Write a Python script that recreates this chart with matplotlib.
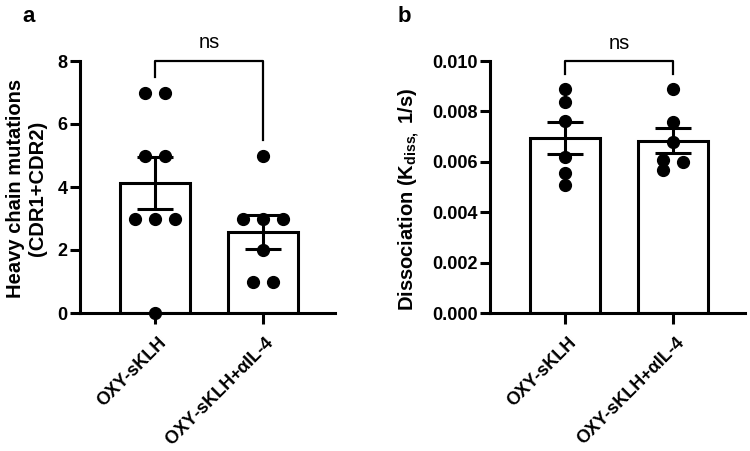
import numpy as np
import matplotlib
matplotlib.use('Agg')
from matplotlib import pyplot as plt
from matplotlib.transforms import ScaledTranslation

plt.rcParams['font.family'] = ['Liberation Sans', 'DejaVu Sans']
plt.rcParams['font.weight'] = 'bold'
plt.rcParams['axes.labelweight'] = 'bold'
plt.rcParams['mathtext.fontset'] = 'custom'
plt.rcParams['mathtext.rm'] = 'Liberation Sans:bold'
plt.rcParams['mathtext.bf'] = 'Liberation Sans:bold'
plt.rcParams['mathtext.it'] = 'Liberation Sans'

# data
groups = ['OXY-sKLH', 'OXY-sKLH+αIL-4']
mutations_sklh = [7, 7, 5, 5, 3, 3, 3, 0]
mutations_il4 = [5, 3, 3, 3, 2, 1, 1]
kdiss_sklh = [0.00889, 0.00839, 0.00760, 0.00620, 0.00555, 0.00507]
kdiss_il4 = [0.00888, 0.00756, 0.00680, 0.00608, 0.00601, 0.00568]

LW = 2.2


def swarm(vals, px_per_unit, diam=11, step=0.185):
    # simple beeswarm: equal values side by side, centred on the bar
    order = sorted(range(len(vals)), key=lambda i: -vals[i])
    rows = []
    for i in order:
        if rows and abs(vals[rows[-1][0]] - vals[i]) * px_per_unit < diam * 0.5:
            rows[-1].append(i)
        else:
            rows.append([i])
    offs = [0.0] * len(vals)
    prev = None
    for row in rows:
        n = len(row)
        pos = [k - (n - 1) / 2 for k in range(n)]
        if n == 1 and prev is not None and len(prev[0]) % 2 == 0 \
                and (vals[prev[0][-1]] - vals[row[0]]) * px_per_unit < diam:
            pos = [prev[1][0]]
        for k, i in enumerate(row):
            offs[i] = pos[k] * step
        prev = (row, pos)
    return offs


def panel(ax, data, ymax, px_per_unit):
    for x, vals in enumerate(data):
        v = np.array(vals, dtype=float)
        m = v.mean()
        sem = v.std(ddof=1) / np.sqrt(len(v))
        ax.bar(x, m, width=0.65, color='white', edgecolor='black', linewidth=LW, zorder=2)
        offs = swarm(vals, px_per_unit)
        ax.plot(x + np.array(offs), v, 'o', color='black', markersize=8.5, zorder=4, clip_on=False)
        ax.errorbar(x, m, yerr=sem, fmt='none', ecolor='black', elinewidth=LW,
                    capsize=13, capthick=LW, zorder=5)
    ax.set_xlim(-0.69, 1.665)
    ax.set_ylim(0, ymax)
    ax.spines['top'].set_visible(False)
    ax.spines['right'].set_visible(False)
    ax.spines['left'].set_linewidth(LW)
    ax.spines['bottom'].set_linewidth(LW)
    ax.tick_params(axis='y', width=LW, length=7, labelsize=13, pad=2)
    ax.tick_params(axis='x', width=LW, length=8, labelsize=13, pad=3.5)
    ax.set_xticks([0, 1])


def rotate_labels(ax, labels):
    ax.set_xticklabels(labels, rotation=45, ha='right', rotation_mode='anchor')
    shift = ScaledTranslation(0.03, -0.05, fig.dpi_scale_trans)
    for t in ax.get_xticklabels():
        t.set_transform(t.get_transform() + shift)


def bracket(ax, y0, ytop, y1, ytext):
    ax.plot([0, 0, 1, 1], [y0, ytop, ytop, y1], color='black', lw=1.6, clip_on=False)
    ax.text(0.5, ytext, 'ns', ha='center', va='center', fontsize=14.5, fontweight='normal')


fig = plt.figure(figsize=(7.5, 4.51), dpi=100)
ax_a = fig.add_axes([80 / 750, 1 - 313 / 451, 255 / 750, 252 / 451])
ax_b = fig.add_axes([490 / 750, 1 - 313 / 451, 255 / 750, 252 / 451])

panel(ax_a, [mutations_sklh, mutations_il4], 8, 252 / 8)
ax_a.set_yticks([0, 2, 4, 6, 8])
rotate_labels(ax_a, [groups[0], r'OXY-sKLH+$\alpha$IL-4'])
ax_a.set_ylabel('Heavy chain mutations\n(CDR1+CDR2)', fontsize=14.5, linespacing=1.2)
ax_a.yaxis.set_label_coords(-0.128, 0.496)
bracket(ax_a, 7.5, 8, 5.5, 8.6)

panel(ax_b, [kdiss_sklh, kdiss_il4], 0.010, 252 / 0.010)
ax_b.set_yticks(np.arange(0, 0.0101, 0.002))
ax_b.yaxis.set_major_formatter(matplotlib.ticker.FormatStrFormatter('%.3f'))
rotate_labels(ax_b, groups)
ax_b.set_ylabel(r'Dissociation (K$_{\mathregular{diss,}}$ 1/s)', fontsize=14.5)
ax_b.yaxis.set_label_coords(-0.267, 0.45)
bracket(ax_b, 0.0095, 0.010, 0.0095, 0.0107)

fig.text(29 / 750, 1 - 16 / 451, 'a', fontsize=16, fontweight='bold', ha='center', va='center')
fig.text(404 / 750, 1 - 16 / 451, 'b', fontsize=16, fontweight='bold', ha='center', va='center')

fig.savefig('out.png', dpi=100)
